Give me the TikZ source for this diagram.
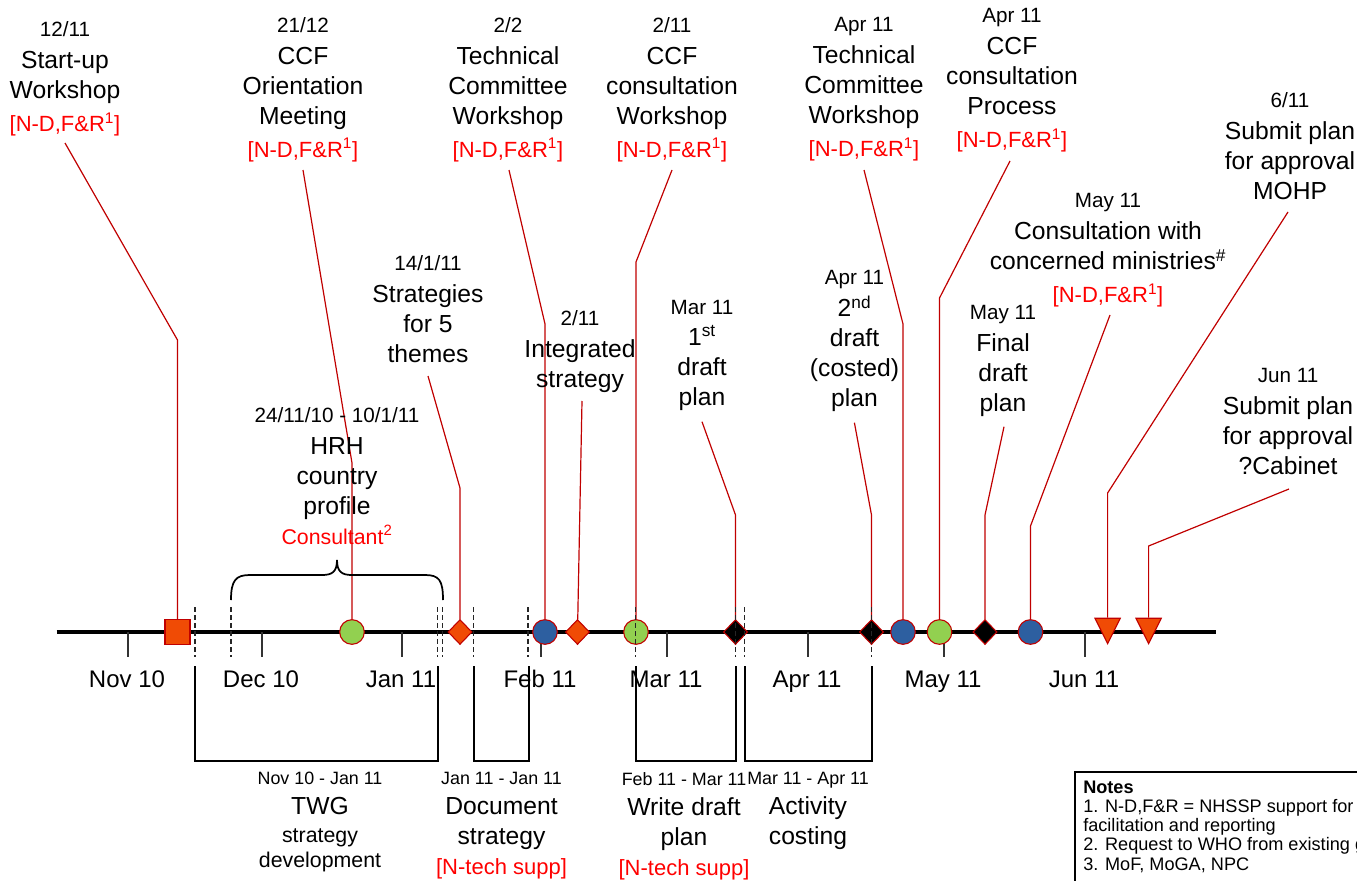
\documentclass[tikz,border=0pt]{standalone}
\usepackage{fontspec}
\setmainfont{Liberation Sans}
\usetikzlibrary{shapes.geometric}
\pgfdeclarelayer{bg}
\pgfsetlayers{bg,main}
\definecolor{orng}{RGB}{240,75,5}
\definecolor{grn}{RGB}{146,208,80}
\definecolor{blu}{RGB}{45,95,160}
\definecolor{dred}{RGB}{192,0,0}
\definecolor{tred}{RGB}{255,0,0}
\newcommand{\tldate}[1]{{\fontsize{15.5}{22.5}\selectfont #1}}
\newcommand{\tlred}[1]{{\color{tred}\fontsize{16.5}{22.5}\selectfont #1}}
\newcommand{\tlnd}{\tlred{[N-D,F\&R\textsuperscript{1}]}}
\newcommand{\tlrange}[1]{{\fontsize{13.4}{22.5}\selectfont #1}}
\newcommand{\tlsmall}[1]{{\fontsize{16}{22.5}\selectfont #1}}
\begin{document}
\begin{tikzpicture}[x=0.75pt,y=-0.75pt,
  lbl/.style={align=center,inner sep=0pt,anchor=north,font=\fontsize{18.5}{22.5}\selectfont},
  mk/.style={draw=dred,line width=0.8pt,inner sep=0pt},
  sqm/.style={mk,rectangle,fill=orng,minimum size=18.75pt},
  cg/.style={mk,circle,fill=grn,minimum size=18.5pt},
  cb/.style={mk,circle,fill=blu,minimum size=18.5pt},
  dmo/.style={mk,diamond,fill=orng,minimum width=18pt,minimum height=18.75pt},
  dmk/.style={mk,diamond,fill=black,minimum width=18pt,minimum height=18.75pt},
  trm/.style={mk,isosceles triangle,isosceles triangle stretches,shape border rotate=-90,fill=orng,minimum width=19pt,minimum height=19pt,anchor=apex},
  leader/.style={draw=dred,line width=0.9pt},
  dsh/.style={draw=black!85,line width=0.8pt,dash pattern=on 3.5pt off 2.5pt},
  brk/.style={draw=black,line width=1.5pt},
  tickl/.style={draw=black!80,line width=1pt},
  axlbl/.style={font=\fontsize{18}{22.5}\selectfont,anchor=base,inner sep=0pt}]

\useasboundingbox (0,0) rectangle (1357,881);

% axis
\coordinate (axL) at (56.5,632);
\coordinate (axR) at (1216,632);
\draw[line width=3pt] (axL) -- (axR);

% ticks and month labels
\foreach \x/\t in {128/Nov 10,262/Dec 10,402/Jan 11,541/Feb 11,667/Mar 11,808/Apr 11,944/May 11,1085/Jun 11}{
  \draw[tickl] (\x,632) -- (\x,657);
  \node[axlbl] (ax\x) at (\x-1,687) {\t};
}

% markers
\node[sqm] (m1) at (177.5,632) {};
\node[cg] (m2) at (352,632) {};
\node[dmo] (m3) at (460,632) {};
\node[cb] (m4) at (545,632) {};
\node[dmo] (m5) at (577.5,632) {};
\node[cg] (m6) at (636,632) {};
\node[dmk] (m7) at (735.5,632) {};
\node[dmk] (m8) at (871.5,632) {};
\node[cb] (m9) at (903,632) {};
\node[cg] (m10) at (939.5,632) {};
\node[dmk] (m11) at (985,632) {};
\node[cb] (m12) at (1030.5,632) {};
\node[trm] (m13) at (1107.6,645) {};
\node[trm] (m14) at (1148.6,645) {};

% dashed period markers
\foreach \x in {195,231,437.5,442.5,473.6,528,635.5,735.5,744.5,871.5}{
  \draw[dsh] (\x,607) -- (\x,657);
}

% brace
\draw[line width=1.3pt] (231,600) .. controls (231,580) and (236,575) .. (250,575) -- (322,575)
  .. controls (332,575) and (337,572) .. (337,560)
  .. controls (337,572) and (342,575) .. (352,575) -- (425,575)
  .. controls (439,575) and (443,580) .. (443,600);

% period brackets
\draw[brk] (195,666) -- (195,761) -- (438,761) -- (438,666);
\draw[brk] (473.6,666) -- (473.6,761) -- (528.5,761) -- (528.5,666);
\draw[brk] (635.5,666) -- (635.5,761) -- (735.5,761) -- (735.5,666);
\draw[brk] (744.5,666) -- (744.5,761) -- (871.5,761) -- (871.5,666);

% top labels
\node[lbl] (l1) at (65,21.7) {\tldate{12/11}\\[1.5pt]Start-up\\Workshop\\[2.25pt]\tlnd};
\node[lbl] (l2) at (303,17) {\tldate{21/12}\\[1.5pt]CCF\\Orientation\\Meeting\\[2.25pt]\tlnd};
\node[lbl] (l3) at (508,17) {\tldate{2/2}\\[1.5pt]Technical\\Committee\\Workshop\\[2.25pt]\tlnd};
\node[lbl] (l4) at (672,17) {\tldate{2/11}\\[1.5pt]CCF\\consultation\\Workshop\\[2.25pt]\tlnd};
\node[lbl] (l5) at (864,17) {\tldate{Apr 11}\\[1.5pt]Technical\\Committee\\Workshop\\[2.25pt]\tlnd};
\node[lbl] (l6) at (1012,8) {\tldate{Apr 11}\\[1.5pt]CCF\\consultation\\Process\\[2.25pt]\tlnd};
\node[lbl] (l7) at (1290,92) {\tldate{6/11}\\[1.5pt]Submit plan\\for approval\\MOHP};
\node[lbl] (l8) at (428,255) {\tldate{14/1/11}\\[1.5pt]Strategies\\for 5\\themes};
\node[lbl] (l9) at (337,407) {\tldate{24/11/10 - 10/1/11}\\[1.5pt]HRH\\country\\profile\\{\color{tred}\fontsize{16}{22.5}\selectfont Consultant\textsuperscript{2}}};
\node[lbl] (l10) at (580,310) {\tldate{2/11}\\[1.5pt]Integrated\\strategy};
\node[lbl] (l11) at (702,300) {\tldate{Mar 11}\\[0.5pt]1\textsuperscript{st}\\draft\\plan};
\node[lbl] (l12) at (854.5,270) {\tldate{Apr 11}\\[1.5pt]2\textsuperscript{nd}\\draft\\(costed)\\plan};
\node[lbl] (l13) at (1003,305) {\tldate{May 11}\\[1.5pt]Final\\draft\\plan};
\node[lbl] (l14) at (1108,193) {\tldate{May 11}\\[1.5pt]Consultation with\\concerned ministries\textsuperscript{\#}\\[2.25pt]\tlnd};
\node[lbl] (l15) at (1288,368) {\tldate{Jun 11}\\[1.5pt]Submit plan\\for approval\\?Cabinet};

% leader start points
\coordinate (s1) at (65,143);
\coordinate (s2) at (303,170);
\coordinate (s3) at (509,170);
\coordinate (s4) at (672,170);
\coordinate (s5) at (864,170);
\coordinate (s6) at (1010,161);
\coordinate (s7) at (1288,212);
\coordinate (s8) at (428,376);
\coordinate (s10) at (582,401);
\coordinate (s11) at (702,421.7);
\coordinate (s12) at (854.4,422.7);
\coordinate (s13) at (1004,426.7);
\coordinate (s14) at (1110,315);
\coordinate (s15) at (1289,489);

\begin{pgfonlayer}{bg}
\draw[leader] (s1) -- (m1 |- 0,340) -- (m1);
\draw[leader] (s2) -- (m2 |- 0,463) -- (m2);
\draw[leader] (s3) -- (m4 |- 0,324) -- (m4);
\draw[leader] (s4) -- (m6 |- 0,262) -- (m6);
\draw[leader] (s5) -- (m9 |- 0,324) -- (m9);
\draw[leader] (s6) -- (m10 |- 0,298) -- (m10);
\draw[leader] (s7) -- (m13 |- 0,493) -- (m13);
\draw[leader] (s8) -- (m3 |- 0,488) -- (m3);
\draw[leader] (s10) -- (m5);
\draw[leader] (s11) -- (m7 |- 0,515) -- (m7);
\draw[leader] (s12) -- (m8 |- 0,515) -- (m8);
\draw[leader] (s13) -- (m11 |- 0,515) -- (m11);
\draw[leader] (s14) -- (m12 |- 0,526) -- (m12);
\draw[leader] (s15) -- (m14 |- 0,546) -- (m14);
\end{pgfonlayer}

% bottom labels
\node[lbl] (b1) at (320,772.2) {\tlrange{Nov 10 - Jan 11}\\TWG\\[-1.5pt]\tlsmall{strategy}\\[-3.75pt]\tlsmall{development}};
\node[lbl] (b2) at (501.5,772.2) {\tlrange{Jan 11 - Jan 11}\\Document\\strategy\\\tlred{[N-tech supp]}};
\node[lbl] (b3) at (684,772.2) {\tlrange{Feb 11 - Mar 11}\\Write draft\\plan\\\tlred{[N-tech supp]}};
\node[lbl] (b4) at (808,772.2) {\tlrange{Mar 11 - Apr 11}\\Activity\\costing};

% notes
\draw[line width=0.8pt] (1075,772) rectangle (1420,900);
\node[anchor=north west,align=left,inner sep=0pt,font=\fontsize{13.6}{14.3}\selectfont] (notes) at (1083,781)
  {\textbf{Notes}\\1. N-D,F\&R = NHSSP support for design,\\facilitation and reporting\\2. Request to WHO from existing grant\\3. MoF, MoGA, NPC};
\end{tikzpicture}
\end{document}
